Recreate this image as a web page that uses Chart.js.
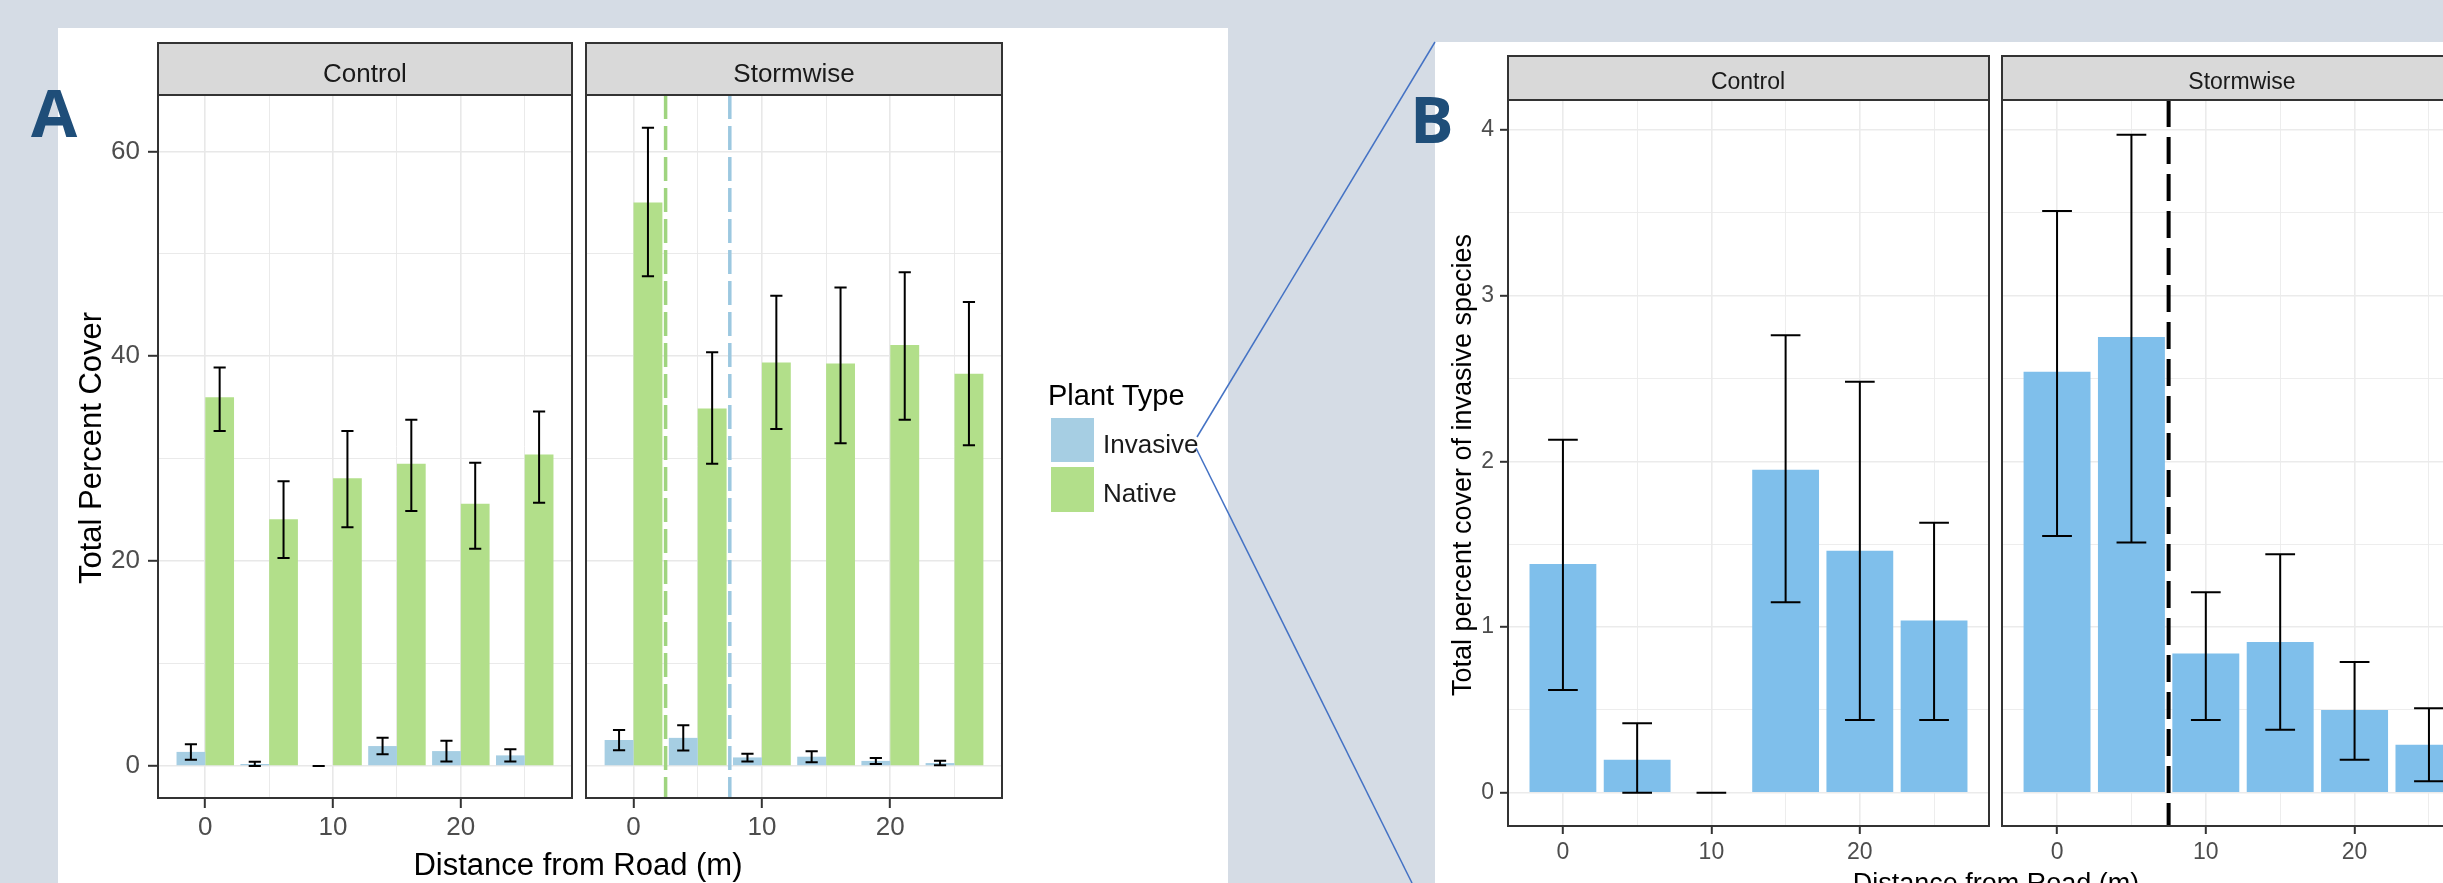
<!DOCTYPE html>
<html><head><meta charset="utf-8">
<script src="https://cdn.jsdelivr.net/npm/chart.js@4"></script>
<style>
html,body{margin:0;padding:0;}
body{width:2443px;height:883px;overflow:hidden;position:relative;background:#d5dce5;font-family:"Liberation Sans",Arial,sans-serif;}
.box{position:absolute;background:#fff;}
canvas{position:absolute;}
svg{position:absolute;left:0;top:0;}
</style></head><body>
<div class="box" style="left:58px;top:28px;width:1170px;height:855px"></div>
<div class="box" style="left:1435px;top:42px;width:1008px;height:841px"></div>
<canvas id="aCtl"></canvas>
<canvas id="aStw"></canvas>
<canvas id="bCtl"></canvas>
<canvas id="bStw"></canvas>
<svg width="2443" height="883" font-family="Liberation Sans, Arial, sans-serif">
  <text x="31" y="137" font-family="Open Sans, Liberation Sans, sans-serif" font-weight="700" font-size="67" fill="#1f4e79">A</text>
  <text x="1410" y="143" font-family="Open Sans, Liberation Sans, sans-serif" font-weight="700" font-size="65" fill="#1f4e79">B</text>
  <!-- strips A -->
  <rect x="158" y="43" width="414" height="52" fill="#d9d9d9" stroke="#333" stroke-width="2"/>
  <text x="365" y="82" text-anchor="middle" font-size="26" fill="#1a1a1a">Control</text>
  <rect x="586" y="43" width="416" height="52" fill="#d9d9d9" stroke="#333" stroke-width="2"/>
  <text x="794" y="82" text-anchor="middle" font-size="26" fill="#1a1a1a">Stormwise</text>
  <!-- strips B -->
  <rect x="1508" y="56" width="481" height="44" fill="#d9d9d9" stroke="#333" stroke-width="2"/>
  <text x="1748" y="89" text-anchor="middle" font-size="23" fill="#1a1a1a">Control</text>
  <rect x="2002" y="56" width="482" height="44" fill="#d9d9d9" stroke="#333" stroke-width="2"/>
  <text x="2242" y="89" text-anchor="middle" font-size="23" fill="#1a1a1a">Stormwise</text>
  <!-- axis titles -->
  <text transform="translate(101,448) rotate(-90)" text-anchor="middle" font-size="31" fill="#000">Total Percent Cover</text>
  <text x="578" y="875" text-anchor="middle" font-size="31" fill="#000">Distance from Road (m)</text>
  <text transform="translate(1471,465) rotate(-90)" text-anchor="middle" font-size="27" fill="#000">Total percent cover of invasive species</text>
  <text x="1996" y="892" text-anchor="middle" font-size="27" fill="#000">Distance from Road (m)</text>
  <!-- legend -->
  <text x="1048" y="405" font-size="29" fill="#000">Plant Type</text>
  <rect x="1051" y="418" width="43" height="44" fill="#a6cee3"/>
  <rect x="1051" y="467" width="43" height="45" fill="#b2df8a"/>
  <text x="1103" y="453" font-size="26" fill="#1a1a1a">Invasive</text>
  <text x="1103" y="502" font-size="26" fill="#1a1a1a">Native</text>
  <!-- connector lines -->
  <line x1="1197" y1="437" x2="1435" y2="42" stroke="#4472c4" stroke-width="1.5"/>
  <line x1="1196" y1="448" x2="1412" y2="883" stroke="#4472c4" stroke-width="1.5"/>
</svg>
<script>
// ---------- data ----------
const distances = [0, 5, 10, 15, 20, 25];
const xTicks = [0, 5, 10, 15, 20, 25];
const xTickLabels = [0, 10, 20];
const yTicksA = [0, 10, 20, 30, 40, 50, 60];
const yTickLabelsA = [0, 20, 40, 60];
const yTicksB = [0, 0.5, 1, 1.5, 2, 2.5, 3, 3.5, 4];
const yTickLabelsB = [0, 1, 2, 3, 4];

const ctlInvasive   = [1.38, 0.20, 0.00, 1.95, 1.46, 1.04];
const ctlInvasiveLo = [0.62, 0.00, 0.00, 1.15, 0.44, 0.44];
const ctlInvasiveHi = [2.13, 0.42, 0.00, 2.76, 2.48, 1.63];
const stwInvasive   = [2.54, 2.75, 0.84, 0.91, 0.50, 0.29];
const stwInvasiveLo = [1.55, 1.51, 0.44, 0.38, 0.20, 0.07];
const stwInvasiveHi = [3.51, 3.97, 1.21, 1.44, 0.79, 0.51];

const ctlNative   = [36.0, 24.1, 28.1, 29.5, 25.6, 30.4];
const ctlNativeLo = [32.7, 20.3, 23.3, 24.9, 21.2, 25.7];
const ctlNativeHi = [38.9, 27.8, 32.7, 33.8, 29.6, 34.6];
const stwNative   = [55.0, 34.9, 39.4, 39.3, 41.1, 38.3];
const stwNativeLo = [47.8, 29.5, 32.9, 31.5, 33.8, 31.3];
const stwNativeHi = [62.3, 40.4, 45.9, 46.7, 48.2, 45.3];

const thresholdsA = [2.5, 7.5];   // dashed reference lines, panel A Stormwise
const thresholdsB = [7.5];        // dashed reference line, panel B Stormwise

// ---------- helpers ----------
const FAM = '"Liberation Sans", Arial, sans-serif';
function pts(vals) { return distances.map((d, i) => ({ x: d, y: vals[i] })); }

function panel(id, area, cfg) {
  const el = document.getElementById(id);
  const PAD = 4;
  el.width = (area.r - area.l) + cfg.Ly + 2 * PAD;
  el.height = (area.b - area.t) + cfg.Lx + PAD;
  el.style.left = (area.l - cfg.Ly - PAD) + 'px';
  el.style.top = (area.t - PAD) + 'px';

  const decor = {
    id: 'decor',
    afterDatasetsDraw(chart) {
      const { ctx, chartArea: a, scales } = chart;
      const xs = scales.x, ys = scales.y;
      ctx.save();
      ctx.beginPath(); ctx.rect(a.left, a.top, a.right - a.left, a.bottom - a.top); ctx.clip();
      cfg.vlines.forEach(v => {
        const px = xs.getPixelForValue(v.x);
        ctx.beginPath(); ctx.setLineDash(cfg.dash);
        ctx.strokeStyle = v.color; ctx.lineWidth = cfg.dashWidth;
        ctx.moveTo(px, a.top); ctx.lineTo(px, a.bottom); ctx.stroke();
      });
      ctx.setLineDash([]);
      const hw = (xs.getPixelForValue(cfg.capWidth) - xs.getPixelForValue(0)) / 2;
      chart.data.datasets.forEach((ds, di) => {
        const meta = chart.getDatasetMeta(di);
        meta.data.forEach((bar, i) => {
          const px = bar.x;
          const yh = ys.getPixelForValue(ds.errHi[i]);
          const yl = ys.getPixelForValue(ds.errLo[i]);
          ctx.beginPath();
          ctx.moveTo(px, yh); ctx.lineTo(px, yl);
          ctx.moveTo(px - hw, yh); ctx.lineTo(px + hw, yh);
          ctx.moveTo(px - hw, yl); ctx.lineTo(px + hw, yl);
          ctx.strokeStyle = '#000'; ctx.lineWidth = cfg.errWidth; ctx.stroke();
        });
      });
      ctx.restore();
      ctx.save();
      ctx.strokeStyle = '#333'; ctx.lineWidth = 2;
      ctx.strokeRect(a.left, a.top, a.right - a.left, a.bottom - a.top);
      ctx.restore();
    }
  };

  const isMajX = v => xTickLabels.includes(v);
  const isMajY = v => cfg.yLabels.includes(v);
  const zeroPad = s => { s.paddingLeft = 0; s.paddingRight = 0; s.paddingTop = 0; s.paddingBottom = 0; };

  return new Chart(el, {
    type: 'bar',
    data: { datasets: cfg.datasets },
    options: {
      responsive: false, animation: false, events: [],
      layout: { padding: { top: PAD, right: PAD, left: PAD, bottom: 0 } },
      plugins: { legend: { display: false }, tooltip: { enabled: false } },
      scales: {
        x: {
          type: 'linear', min: -3.7, max: 28.7, offset: false,
          afterBuildTicks: s => { s.ticks = xTicks.map(v => ({ value: v })); },
          afterFit: s => { s.height = cfg.Lx; zeroPad(s); },
          border: { display: false },
          grid: {
            offset: false, color: cfg.gridColor,
            lineWidth: c => (c.tick && isMajX(c.tick.value)) ? 1.6 : 0.9,
            tickLength: cfg.tickLen, tickWidth: 2,
            tickColor: c => (c.tick && isMajX(c.tick.value)) ? '#333' : 'rgba(0,0,0,0)'
          },
          ticks: {
            autoSkip: false, maxRotation: 0, minRotation: 0, padding: cfg.xPad,
            color: '#4d4d4d', font: { family: FAM, size: cfg.fontSize },
            callback: v => isMajX(v) ? String(v) : ''
          }
        },
        y: {
          type: 'linear', min: cfg.yMin, max: cfg.yMax,
          afterBuildTicks: s => { s.ticks = cfg.yTicks.map(v => ({ value: v })); },
          afterFit: s => { s.width = cfg.Ly; zeroPad(s); },
          border: { display: false },
          grid: {
            color: cfg.gridColor,
            lineWidth: c => (c.tick && isMajY(c.tick.value)) ? 1.6 : 0.9,
            drawTicks: cfg.showY, tickLength: cfg.tickLen, tickWidth: 2,
            tickColor: c => (c.tick && isMajY(c.tick.value)) ? '#333' : 'rgba(0,0,0,0)'
          },
          ticks: {
            display: cfg.showY, autoSkip: false, padding: cfg.yPad,
            color: '#4d4d4d', font: { family: FAM, size: cfg.fontSize },
            callback: v => isMajY(v) ? String(v) : ''
          }
        }
      }
    },
    plugins: [decor]
  });
}

const INV_A = '#a6cee3', NAT_A = '#b2df8a', INV_B = '#7fbfeb';
function dsA(inv, invLo, invHi, nat, natLo, natHi) {
  return [
    { label: 'Invasive', data: pts(inv), errLo: invLo, errHi: invHi, backgroundColor: INV_A, borderWidth: 0, categoryPercentage: 0.9, barPercentage: 1.0 },
    { label: 'Native', data: pts(nat), errLo: natLo, errHi: natHi, backgroundColor: NAT_A, borderWidth: 0, categoryPercentage: 0.9, barPercentage: 1.0 }
  ];
}
function dsB(inv, lo, hi) {
  return [{ label: 'Invasive', data: pts(inv), errLo: lo, errHi: hi, backgroundColor: INV_B, borderWidth: 0, categoryPercentage: 0.9, barPercentage: 1.0 }];
}

const baseA = { yMin: -3.12, yMax: 65.5, yTicks: yTicksA, yLabels: yTickLabelsA, Lx: 50, tickLen: 10, xPad: 4, yPad: 8,
  fontSize: 26, gridColor: '#e8e8e8', capWidth: 0.95, errWidth: 2, dash: [24, 7], dashWidth: 3.5 };
const baseB = { yMin: -0.2, yMax: 4.18, yTicks: yTicksB, yLabels: yTickLabelsB, Lx: 45, tickLen: 8, xPad: 5, yPad: 6,
  fontSize: 23, gridColor: '#ebebeb', capWidth: 2.0, errWidth: 2, dash: [27, 10], dashWidth: 4 };

panel('aCtl', { l: 158, t: 95, r: 572, b: 798 }, Object.assign({}, baseA, {
  Ly: 100, showY: true, vlines: [],
  datasets: dsA(ctlInvasive, ctlInvasiveLo, ctlInvasiveHi, ctlNative, ctlNativeLo, ctlNativeHi) }));
panel('aStw', { l: 586, t: 95, r: 1002, b: 798 }, Object.assign({}, baseA, {
  Ly: 0, showY: false,
  vlines: [{ x: thresholdsA[0], color: '#9fd47f' }, { x: thresholdsA[1], color: '#9cc8e0' }],
  datasets: dsA(stwInvasive, stwInvasiveLo, stwInvasiveHi, stwNative, stwNativeLo, stwNativeHi) }));
panel('bCtl', { l: 1508, t: 100, r: 1989, b: 826 }, Object.assign({}, baseB, {
  Ly: 60, showY: true, vlines: [],
  datasets: dsB(ctlInvasive, ctlInvasiveLo, ctlInvasiveHi) }));
panel('bStw', { l: 2002, t: 100, r: 2484, b: 826 }, Object.assign({}, baseB, {
  Ly: 0, showY: false, vlines: [{ x: thresholdsB[0], color: '#000' }],
  datasets: dsB(stwInvasive, stwInvasiveLo, stwInvasiveHi) }));
</script>
</body></html>
